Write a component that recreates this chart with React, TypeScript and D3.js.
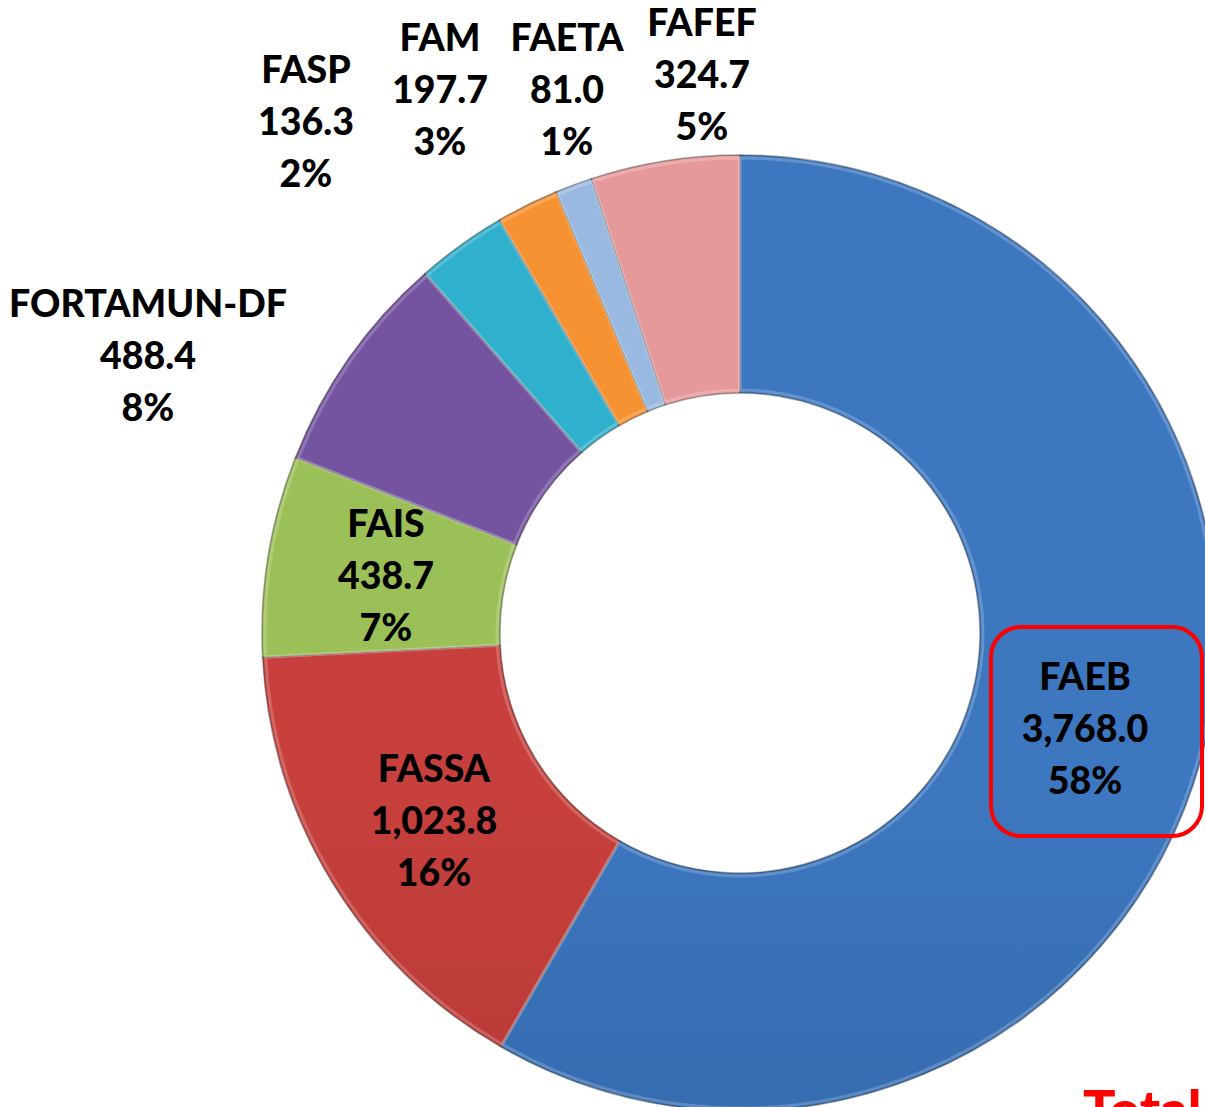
import React from "react";
import * as d3 from "d3";

const categories = ["FAEB", "FASSA", "FAIS", "FORTAMUN-DF", "FAM", "FASP", "FAETA", "FAFEF"];
const values = [3768.0, 1023.8, 438.7, 488.4, 197.7, 136.3, 81.0, 324.7];
const topColors = ["#3c77c0", "#c7403d", "#9cc058", "#7454a0", "#2fb0cc", "#f79232", "#9ab9e0", "#e6999a"];
const bottomColors = ["#2b5891", "#9c2e2b", "#82a43f", "#684a92", "#2895b2", "#e27a1c", "#7f9dc6", "#c47878"];

// label anchor positions (center x, first baseline y) for each slice
const labelPos: [number, number][] = [
  [1085, 690],
  [434, 782],
  [386, 537],
  [148, 317],
  [440, 51],
  [306, 83],
  [567, 51],
  [702, 36],
];

const W = 1205;
const H = 1107;
const cx = 740;
const cy = 633;
const outerR = 478;
const innerR = 240;

export default function App() {
  const total = d3.sum(values);
  const data = categories.map((c, i) => ({ name: c, value: values[i], i }));
  const pie = d3
    .pie<{ name: string; value: number; i: number }>()
    .value((d) => d.value)
    .sort(null)
    .startAngle(0)
    .endAngle(2 * Math.PI);
  const arcs = pie(data);
  const arc = d3
    .arc<d3.PieArcDatum<{ name: string; value: number; i: number }>>()
    .innerRadius(innerR)
    .outerRadius(outerR);
  const arcHi = d3
    .arc<d3.PieArcDatum<{ name: string; value: number; i: number }>>()
    .innerRadius(innerR + 3)
    .outerRadius(outerR - 3);
  const fmtVal = d3.format(",.1f");
  const fmtPct = d3.format(".0%");
  const lineH = 52;

  return (
    <svg
      width={W}
      height={H}
      style={{ position: "absolute", left: 0, top: 0, background: "#fff" }}
      fontFamily="Lato, 'Open Sans', sans-serif"
    >
      <defs>
        {arcs.map((a, i) => (
          <linearGradient
            key={i}
            id={`g${i}`}
            gradientUnits="userSpaceOnUse"
            x1={0}
            y1={cy - outerR}
            x2={0}
            y2={cy + outerR}
          >
            <stop offset="0%" stopColor={topColors[i]} />
            <stop offset="100%" stopColor={bottomColors[i]} />
          </linearGradient>
        ))}
      </defs>
      <g transform={`translate(${cx},${cy})`}>
        {arcs.map((a, i) => (
          <path
            key={i}
            d={arc(a) || ""}
            fill={`url(#g${i})`}
            stroke="rgba(40,40,40,0.4)"
            strokeWidth={1.5}
          />
        ))}
        {arcs.map((a, i) => (
          <path
            key={`h${i}`}
            d={arcHi(a) || ""}
            fill="none"
            stroke="rgba(255,255,255,0.2)"
            strokeWidth={3}
          />
        ))}
      </g>
      <rect
        x={991}
        y={627}
        width={211}
        height={209}
        rx={30}
        ry={30}
        fill="none"
        stroke="#ff0000"
        strokeWidth={4}
      />
      {arcs.map((a, i) => {
        const [x, y] = labelPos[i];
        return (
          <text
            key={i}
            x={x}
            y={y}
            textAnchor="middle"
            fontSize={37.5}
            fontWeight={900}
            fill="#000"
          >
            <tspan x={x} y={y}>{a.data.name}</tspan>
            <tspan x={x} y={y + lineH}>{fmtVal(a.data.value)}</tspan>
            <tspan x={x} y={y + 2 * lineH}>{fmtPct(a.data.value / total)}</tspan>
          </text>
        );
      })}
      <text x={1083} y={1129} fontSize={54} fontWeight={900} fill="#ff0000">
        Total
      </text>
    </svg>
  );
}
